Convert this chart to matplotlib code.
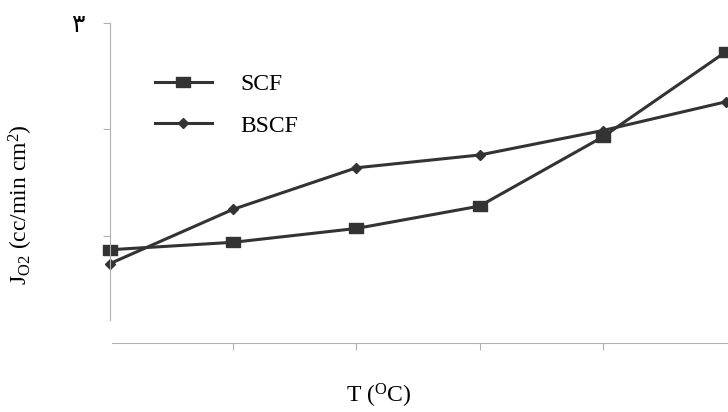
import matplotlib
matplotlib.use('Agg')
import matplotlib.pyplot as plt

plt.rcParams['mathtext.fontset'] = 'custom'
plt.rcParams['mathtext.rm'] = 'Liberation Serif'
plt.rcParams['mathtext.it'] = 'Liberation Serif:italic'

# temperature steps (tick labels are blank in the source figure)
temps = [0, 1, 2, 3, 4, 5]
scf = [0.87, 0.94, 1.07, 1.28, 1.93, 2.73]
bscf = [0.74, 1.25, 1.64, 1.76, 1.99, 2.26]
y_ticks = [1, 2, 3]
y_tick_labels = ['', '', '\u06f3']

fig = plt.figure(figsize=(7.28, 4.12), dpi=100)
ax = fig.add_axes([110 / 728, 1 - 320 / 412, 616 / 728, 297 / 412])

line_col = '#333333'
# slightly wide rectangle marker, as in the scanned figure
rect = [(-1.35, -1), (1.35, -1), (1.35, 1), (-1.35, 1), (-1.35, -1)]
ax.plot(temps, scf, '-', color=line_col, lw=2.2, marker=rect, markersize=10,
        clip_on=False, label='SCF')
ax.plot(temps, bscf, '-', color=line_col, lw=2.2, marker='D', markersize=5,
        clip_on=False, label='BSCF')

ax.set_xlim(0, 5)
ax.set_ylim(0.21, 3.0)

spine_col = '#b0b0b0'
for s in ['top', 'right']:
    ax.spines[s].set_visible(False)
ax.spines['left'].set_color(spine_col)
ax.spines['bottom'].set_color(spine_col)
ax.spines['bottom'].set_position(('outward', 16.5))
ax.spines['bottom'].set_bounds(0.02, 5.02)

ax.set_xticks(temps[1:5])
ax.set_xticklabels([])
ax.set_yticks(y_ticks)
ax.set_yticklabels(y_tick_labels, family=['DejaVu Sans'], fontsize=18)
ax.tick_params(axis='y', length=5, color=spine_col, pad=13)
ax.tick_params(axis='x', length=5, color=spine_col)

ax.set_ylabel(r'J$_{\mathregular{O2}}$ (cc/min cm$^{\mathregular{2}}$)',
              family='Liberation Serif', fontsize=17, ha='center', va='center',
              rotation_mode='default')
ax.yaxis.set_label_coords(-0.1445, 0.387)
ax.set_xlabel(r'T ($\mathregular{^{O}}$C)', family='Liberation Serif',
              fontsize=17, ha='center', va='center')
ax.xaxis.set_label_coords(0.437, -0.256)

ax.legend(loc='upper left', bbox_to_anchor=(0.073, 0.83), frameon=False,
          borderaxespad=0, borderpad=0,
          handlelength=2.4, handletextpad=1.2, labelspacing=0.85,
          prop={'family': 'Liberation Serif', 'size': 17})

fig.savefig('out.png', dpi=100)
